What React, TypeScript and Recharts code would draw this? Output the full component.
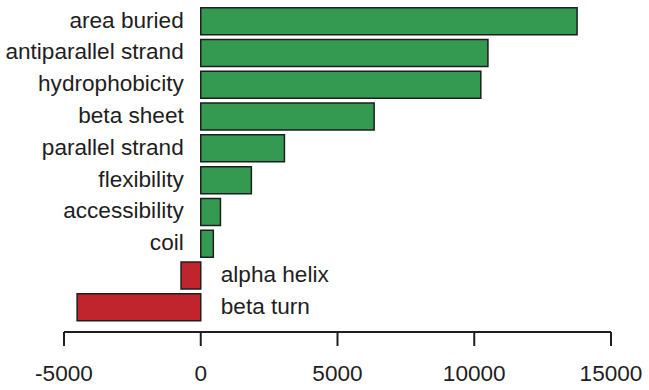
import React from "react";
import { BarChart, Bar, XAxis, YAxis, Cell, LabelList } from "recharts";

const features = [
  "area buried",
  "antiparallel strand",
  "hydrophobicity",
  "beta sheet",
  "parallel strand",
  "flexibility",
  "accessibility",
  "coil",
  "alpha helix",
  "beta turn",
];
const scores = [13760, 10500, 10240, 6340, 3060, 1850, 720, 460, -720, -4520];
const xTicks = [-5000, 0, 5000, 10000, 15000];

const GREEN = "#349a52";
const RED = "#c0242c";
const INK = "#1e1e1e";
const FONT = "'Liberation Sans', Arial, sans-serif";

const data = features.map((name, i) => ({ name, score: scores[i] }));

// positive bars get their name on the left of zero, negative ones on the right
function NameLabel(props: any) {
  const { x, y, width, height, value, index } = props;
  const left = Math.min(x, x + width);
  const right = Math.max(x, x + width);
  const positive = value >= 0;
  return (
    <text
      x={positive ? left - 17 : right + 20}
      y={y + height / 2 + 6.5}
      textAnchor={positive ? "end" : "start"}
      fontSize={22.6}
      fontFamily={FONT}
      fill={INK}
    >
      {features[index]}
    </text>
  );
}

export default function App() {
  return (
    <div style={{ position: "fixed", left: 0, top: 0, width: 649, height: 390, background: "#fff" }}>
      <BarChart
        width={649}
        height={390}
        data={data}
        layout="vertical"
        margin={{ top: 5, right: 38, left: 64, bottom: 0 }}
        barCategoryGap="8.3%"
      >
        <XAxis
          type="number"
          domain={[-5000, 15000]}
          ticks={xTicks}
          allowDataOverflow
          height={58}
          tickSize={14}
          tickMargin={19}
          axisLine={{ stroke: INK, strokeWidth: 2 }}
          tickLine={{ stroke: INK, strokeWidth: 2 }}
          tick={{ fontSize: 22.6, fontFamily: FONT, fill: INK }}
        />
        <YAxis type="category" dataKey="name" hide width={0} padding={{ top: 0, bottom: 9 }} />
        <Bar dataKey="score" stroke={INK} strokeWidth={1.5} isAnimationActive={false}>
          {data.map((d) => (
            <Cell key={d.name} fill={d.score >= 0 ? GREEN : RED} />
          ))}
          <LabelList dataKey="score" content={NameLabel} />
        </Bar>
      </BarChart>
    </div>
  );
}
